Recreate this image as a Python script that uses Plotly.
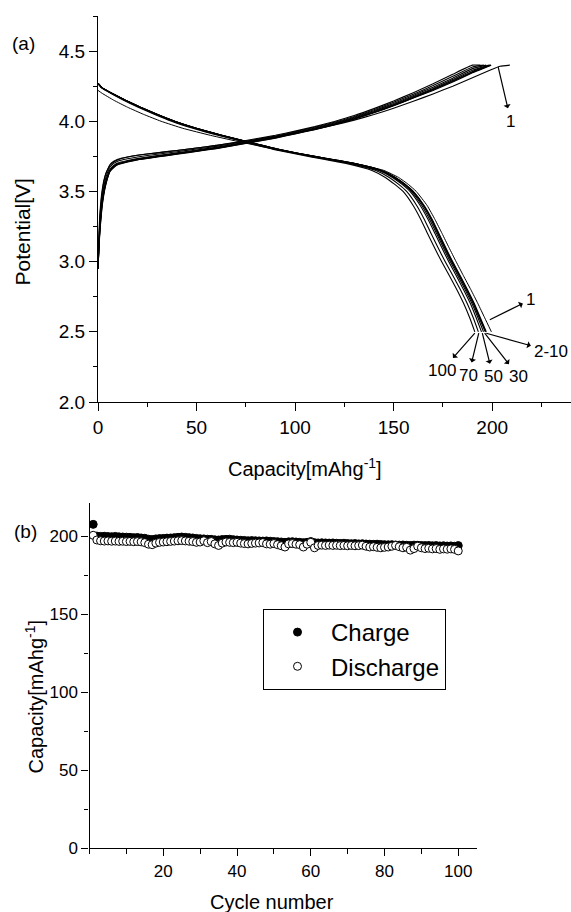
import plotly.graph_objects as go

# ---------------- Panel (a): charge / discharge profiles ----------------
# Charge curves: capacity grid (mAh/g) shared, voltages per cycle
charge_cap_grid = [0, 0.5, 1, 2, 3, 4, 5, 6, 8, 10, 15, 20, 30, 40, 50, 60, 70, 80,
                   90, 100, 110, 120, 130, 140, 150, 160, 170, 180, 190]
charge_v_cycle1 = [2.95, 3.20, 3.35, 3.50, 3.58, 3.63, 3.66, 3.685, 3.71, 3.725, 3.745, 3.758,
                   3.775, 3.792, 3.81, 3.828, 3.848, 3.868, 3.89, 3.915, 3.943, 3.973, 4.008,
                   4.048, 4.093, 4.142, 4.195, 4.25, 4.31]
charge_end_cycle1 = ([200, 204, 209], [4.37, 4.392, 4.40])
charge_v_cycle2 = [2.95, 3.10, 3.22, 3.38, 3.48, 3.55, 3.60, 3.64, 3.67, 3.69, 3.71, 3.725,
                   3.745, 3.765, 3.785, 3.805, 3.83, 3.855, 3.88, 3.91, 3.94, 3.975, 4.015,
                   4.06, 4.11, 4.165, 4.22, 4.28, 4.345]
charge_end_cycle2 = ([199.5], [4.40])
charge_v_cycle5 = [2.95, 3.11, 3.23, 3.39, 3.49, 3.555, 3.605, 3.643, 3.673, 3.693, 3.712, 3.727,
                   3.747, 3.767, 3.787, 3.807, 3.832, 3.857, 3.882, 3.912, 3.942, 3.977, 4.017,
                   4.062, 4.112, 4.168, 4.224, 4.285, 4.35]
charge_end_cycle5 = ([199.2], [4.40])
charge_v_cycle10 = [2.95, 3.11, 3.24, 3.40, 3.495, 3.56, 3.61, 3.646, 3.676, 3.695, 3.714, 3.729,
                    3.749, 3.769, 3.789, 3.809, 3.834, 3.859, 3.885, 3.915, 3.945, 3.98, 4.02,
                    4.065, 4.115, 4.171, 4.228, 4.29, 4.355]
charge_end_cycle10 = ([198.9], [4.40])
charge_v_cycle30 = [2.95, 3.12, 3.25, 3.41, 3.50, 3.57, 3.615, 3.65, 3.68, 3.698, 3.717, 3.731,
                    3.751, 3.771, 3.791, 3.811, 3.836, 3.861, 3.887, 3.917, 3.948, 3.983, 4.023,
                    4.069, 4.12, 4.176, 4.234, 4.297, 4.363]
charge_end_cycle30 = ([198.3], [4.40])
charge_v_cycle50 = [2.95, 3.13, 3.26, 3.42, 3.51, 3.575, 3.62, 3.655, 3.685, 3.703, 3.721, 3.735,
                    3.755, 3.775, 3.795, 3.815, 3.84, 3.865, 3.891, 3.921, 3.952, 3.988, 4.028,
                    4.075, 4.127, 4.184, 4.243, 4.307, 4.375]
charge_end_cycle50 = ([197.0], [4.40])
charge_v_cycle70 = [2.95, 3.15, 3.29, 3.45, 3.54, 3.60, 3.64, 3.672, 3.70, 3.716, 3.733, 3.746,
                    3.765, 3.783, 3.802, 3.821, 3.845, 3.869, 3.895, 3.925, 3.957, 3.993, 4.034,
                    4.082, 4.135, 4.193, 4.254, 4.32, 4.387]
charge_end_cycle70 = ([195.8], [4.40])
charge_v_cycle100 = [2.95, 3.17, 3.32, 3.48, 3.57, 3.625, 3.66, 3.69, 3.715, 3.73, 3.746, 3.758,
                     3.775, 3.792, 3.81, 3.828, 3.851, 3.875, 3.9, 3.93, 3.962, 3.999, 4.041,
                     4.09, 4.144, 4.204, 4.267, 4.335, 4.40]
charge_end_cycle100 = ([194.0], [4.40])

# Discharge curves: voltage grid shared (cycles 2-100), capacities per cycle
discharge_v_grid = [4.27, 4.24, 4.20, 4.15, 4.10, 4.05, 4.00, 3.95, 3.90, 3.85, 3.80, 3.75,
                    3.70, 3.65, 3.60, 3.55, 3.50, 3.40, 3.30, 3.20, 3.10, 3.00, 2.90, 2.80,
                    2.70, 2.60, 2.50]
discharge_cap_cycle2 = [0, 2, 7, 14, 21.7, 30, 39, 50, 62.9, 77.1, 91.7, 110, 130, 144, 151,
                        156, 160, 165.5, 169.6, 173, 176.4, 180, 183.8, 187.5, 191, 194, 197]
discharge_cap_cycle5 = [0, 2, 7, 14, 21.6, 29.9, 38.9, 49.9, 62.8, 77, 91.6, 109.9, 129.8, 143.8,
                        150.8, 155.8, 159.8, 165.2, 169.3, 172.7, 176.1, 179.7, 183.5, 187.2,
                        190.7, 193.7, 196.8]
discharge_cap_cycle10 = [0, 2, 7, 13.9, 21.5, 29.8, 38.8, 49.8, 62.7, 76.9, 91.5, 109.8, 129.6,
                         143.6, 150.6, 155.6, 159.6, 165, 169, 172.4, 175.8, 179.4, 183.2, 186.9,
                         190.4, 193.4, 196.5]
discharge_cap_cycle30 = [0, 2, 7, 13.9, 21.5, 29.8, 38.8, 49.7, 62.6, 76.8, 91.3, 109.5, 129.2,
                         143.1, 150.0, 155.0, 159.0, 164.3, 168.3, 171.8, 175.2, 178.8, 182.6,
                         186.3, 189.8, 192.8, 195.6]
discharge_cap_cycle50 = [0, 1.9, 6.9, 13.8, 21.4, 29.6, 38.6, 49.5, 62.4, 76.6, 91.0, 109.1, 128.7,
                         142.5, 149.4, 154.3, 158.3, 163.5, 167.5, 171.0, 174.4, 178.0, 181.8,
                         185.5, 189.0, 191.9, 194.6]
discharge_cap_cycle70 = [0, 1.8, 6.7, 13.5, 21.0, 29.2, 38.1, 49.0, 61.8, 76.0, 90.3, 108.2, 127.5,
                         141.0, 147.8, 152.6, 156.6, 161.7, 165.6, 169.0, 172.5, 176.2, 180.1,
                         183.9, 187.4, 190.4, 193.0]
discharge_cap_cycle100 = [0, 1.6, 6.4, 13.0, 20.4, 28.5, 37.3, 48.1, 60.8, 74.9, 89.0, 106.8, 125.8,
                          139.0, 145.8, 150.6, 154.8, 159.9, 163.8, 167.2, 170.7, 174.4, 178.3,
                          182.1, 185.6, 188.6, 191.2]
discharge_v_cycle1 = [4.22, 4.20, 4.15, 4.10, 4.05, 4.00, 3.95, 3.90, 3.85, 3.80, 3.75, 3.70, 3.65,
                      3.60, 3.55, 3.50, 3.40, 3.30, 3.20, 3.10, 3.00, 2.90, 2.80, 2.70, 2.60, 2.50]
discharge_cap_cycle1 = [0, 2, 8, 15, 23, 32, 43, 57, 73, 90, 109, 130, 145, 152.5, 157.5, 161.5,
                        167, 171, 174.6, 178.1, 181.7, 185.4, 189.2, 192.8, 196.2, 199.6]

# ---------------- Panel (b): cycling performance ----------------
cycle_number = list(range(1, 101))
charge_capacity = [
    207.5,
    200.0, 199.8, 199.9, 199.7, 199.6, 199.8, 199.5, 199.4, 199.3,
    199.2, 199.0, 199.1, 198.8, 198.6, 198.0, 197.8, 198.2, 198.4, 198.5,
    198.7, 198.8, 199.0, 199.2, 199.4, 199.2, 199.0, 198.8, 198.5, 198.3,
    198.2, 198.0, 197.9, 197.6, 197.5, 197.8, 197.9, 198.0, 197.7, 197.5,
    197.3, 197.2, 197.0, 197.1, 197.0, 196.9, 196.8, 196.9, 196.7, 196.5,
    196.4, 196.2, 196.0, 196.3, 196.4, 196.2, 196.0, 195.8, 196.0, 196.5,
    195.8, 195.6, 195.7, 195.6, 195.5, 195.6, 195.4, 195.3, 195.4, 195.2,
    195.1, 195.2, 195.0, 195.1, 194.9, 194.8, 194.7, 194.8, 194.6, 194.5,
    194.4, 194.5, 194.3, 194.2, 194.3, 194.1, 194.0, 194.2, 194.1, 194.0,
    193.9, 194.0, 193.8, 193.9, 193.7, 193.8, 193.6, 193.7, 193.5, 193.9,
]
discharge_capacity = [
    200.5,
    197.5, 197.0, 196.8, 196.9, 196.7, 196.8, 196.6, 196.7, 196.5,
    196.6, 196.4, 196.5, 196.3, 195.8, 194.8, 194.5, 195.5, 196.0, 196.2,
    196.4, 196.6, 196.8, 197.0, 197.1, 196.9, 196.7, 196.5, 196.0, 196.2,
    197.0, 195.8, 196.5, 195.0, 194.0, 195.5, 196.2, 196.0, 195.8, 196.0,
    195.5, 195.2, 195.0, 195.3, 195.5, 195.6, 195.8, 195.0, 194.8, 195.2,
    194.5, 193.8, 193.0, 195.0, 195.2, 194.8, 194.5, 193.0, 194.8, 196.0,
    192.5, 194.0, 194.2, 194.0, 194.2, 194.0, 194.1, 193.9, 194.0, 193.8,
    194.0, 193.8, 193.9, 194.2, 193.5, 193.0, 193.2, 192.8, 192.5, 192.8,
    193.0, 193.5, 194.0, 193.2, 192.5, 192.8, 191.0, 192.0, 193.5, 192.5,
    192.0, 192.2, 191.8, 192.0, 191.5, 191.8, 191.6, 191.8, 191.5, 190.5,
]

# Tick labels of the cycle-number axis
cycle_tick_vals = [20, 40, 60, 80, 100]
cycle_minor_vals = [0, 10, 30, 50, 70, 90]

# Cycle labels in panel (a): arrow starts on a curve, arrowhead points to the label
label_texts = ["1", "1", "2-10", "30", "50", "70", "100"]
arrow_tails_x = [203, 198.8, 197, 196.2, 195, 193.2, 191.2]
arrow_tails_y = [4.39, 2.586, 2.49, 2.49, 2.49, 2.49, 2.49]
label_x = [209.5, 219.5, 230, 213.5, 200.5, 188, 174.5]
label_y = [4.0, 2.73, 2.36, 2.18, 2.18, 2.19, 2.225]

FONT = "Liberation Sans, Arial, sans-serif"
W, H = 571, 912

fig = go.Figure()

charge_sets = [
    ("1", charge_v_cycle1, charge_end_cycle1),
    ("2", charge_v_cycle2, charge_end_cycle2),
    ("5", charge_v_cycle5, charge_end_cycle5),
    ("10", charge_v_cycle10, charge_end_cycle10),
    ("30", charge_v_cycle30, charge_end_cycle30),
    ("50", charge_v_cycle50, charge_end_cycle50),
    ("70", charge_v_cycle70, charge_end_cycle70),
    ("100", charge_v_cycle100, charge_end_cycle100),
]
for name, vs, (ecap, ev) in charge_sets:
    fig.add_trace(go.Scatter(
        x=charge_cap_grid + ecap, y=vs + ev, mode="lines",
        line=dict(color="black", width=1.1, shape="spline", smoothing=0.4),
        showlegend=False, name="charge " + name, xaxis="x", yaxis="y"))

discharge_sets = [
    ("2", discharge_cap_cycle2), ("5", discharge_cap_cycle5), ("10", discharge_cap_cycle10),
    ("30", discharge_cap_cycle30), ("50", discharge_cap_cycle50),
    ("70", discharge_cap_cycle70), ("100", discharge_cap_cycle100),
]
for name, caps in discharge_sets:
    fig.add_trace(go.Scatter(
        x=caps, y=discharge_v_grid, mode="lines",
        line=dict(color="black", width=1.1, shape="spline", smoothing=0.4),
        showlegend=False, name="discharge " + name, xaxis="x", yaxis="y"))
fig.add_trace(go.Scatter(
    x=discharge_cap_cycle1, y=discharge_v_cycle1, mode="lines",
    line=dict(color="black", width=1.0, shape="spline", smoothing=0.4),
    showlegend=False, name="discharge 1", xaxis="x", yaxis="y"))

# Panel (b)
fig.add_trace(go.Scatter(
    x=cycle_number, y=charge_capacity, mode="markers", name="Charge",
    marker=dict(symbol="circle", size=8, color="black", line=dict(color="black", width=1)),
    xaxis="x2", yaxis="y2"))
fig.add_trace(go.Scatter(
    x=cycle_number, y=discharge_capacity, mode="markers", name="Discharge",
    marker=dict(symbol="circle", size=8, color="white", line=dict(color="black", width=1)),
    xaxis="x2", yaxis="y2"))

axis_common = dict(
    showline=True, linecolor="black", linewidth=1.3, ticks="outside", ticklen=8,
    tickwidth=1.2, tickcolor="black", showgrid=False, zeroline=False, mirror=False,
    automargin=False,
)
top_tickfont = dict(family=FONT, size=19, color="black")
bottom_tickfont = dict(family=FONT, size=17, color="black")

fig.update_layout(
    width=W, height=H, template="none",
    paper_bgcolor="white", plot_bgcolor="white",
    margin=dict(l=0, r=0, t=0, b=0, autoexpand=False),
    font=dict(family=FONT, color="black"),
    xaxis=dict(domain=[98 / W, 1.0], range=[0, 240], tick0=0, dtick=50, anchor="y",
               tickfont=top_tickfont,
               minor=dict(ticks="outside", dtick=25, ticklen=4, tickcolor="black", tickwidth=1),
               **axis_common),
    yaxis=dict(domain=[1 - 402 / H, 1 - 16 / H], range=[2.0, 4.75], tick0=2.0, dtick=0.5,
               tickformat=".1f", anchor="x", tickfont=top_tickfont,
               minor=dict(ticks="outside", dtick=0.25, ticklen=4, tickcolor="black", tickwidth=1),
               **axis_common),
    xaxis2=dict(domain=[89.5 / W, 476.7 / W], range=[0, 105],
                tickmode="array", tickvals=cycle_tick_vals,
                anchor="y2", tickfont=bottom_tickfont,
                minor=dict(ticks="outside", tickvals=cycle_minor_vals, ticklen=5,
                           tickcolor="black", tickwidth=1),
                **{**axis_common, "ticklen": 7}),
    yaxis2=dict(domain=[1 - 848.3 / H, 1 - 503.3 / H], range=[0, 221], tick0=0, dtick=50,
                anchor="x2", tickfont=bottom_tickfont,
                minor=dict(ticks="outside", dtick=25, ticklen=4, tickcolor="black", tickwidth=1),
                **{**axis_common, "ticklen": 7}),
    legend=dict(x=263 / W, y=1 - 609 / H, xanchor="left", yanchor="top",
                bordercolor="black", borderwidth=1, bgcolor="white",
                font=dict(family=FONT, size=24, color="black"),
                itemwidth=57, tracegroupgap=0),
)

annotations = []
paper_text = dict(xref="paper", yref="paper", showarrow=False, xanchor="center", yanchor="middle")
annotations += [
    dict(text="(a)", x=23.5 / W, y=1 - 43 / H, font=dict(size=19), **paper_text),
    dict(text="(b)", x=25 / W, y=1 - 531 / H, font=dict(size=19), **paper_text),
    dict(text="Potential[V]", x=22 / W, y=1 - 232.5 / H, textangle=-90, font=dict(size=21),
         **paper_text),
    dict(text="Capacity[mAhg<sup>-1</sup>]", x=305 / W, y=1 - 467 / H, font=dict(size=20),
         **paper_text),
    dict(text="Capacity[mAhg<sup>-1</sup>]", x=33.5 / W, y=1 - 697 / H, textangle=-90,
         font=dict(size=20), **paper_text),
    dict(text="Cycle number", x=272 / W, y=1 - 902 / H, font=dict(size=20), **paper_text),
]

for t, tx, ty, lx, ly in zip(label_texts, arrow_tails_x, arrow_tails_y, label_x, label_y):
    annotations.append(dict(text=t, x=tx, y=ty, ax=lx, ay=ly, xref="x", yref="y",
                            axref="x", ayref="y", showarrow=True, arrowside="start",
                            arrowhead=2, arrowsize=1, arrowwidth=1.2, arrowcolor="black",
                            startstandoff=2, font=dict(size=17)))

fig.update_layout(annotations=annotations)

fig.write_html("out.html")
